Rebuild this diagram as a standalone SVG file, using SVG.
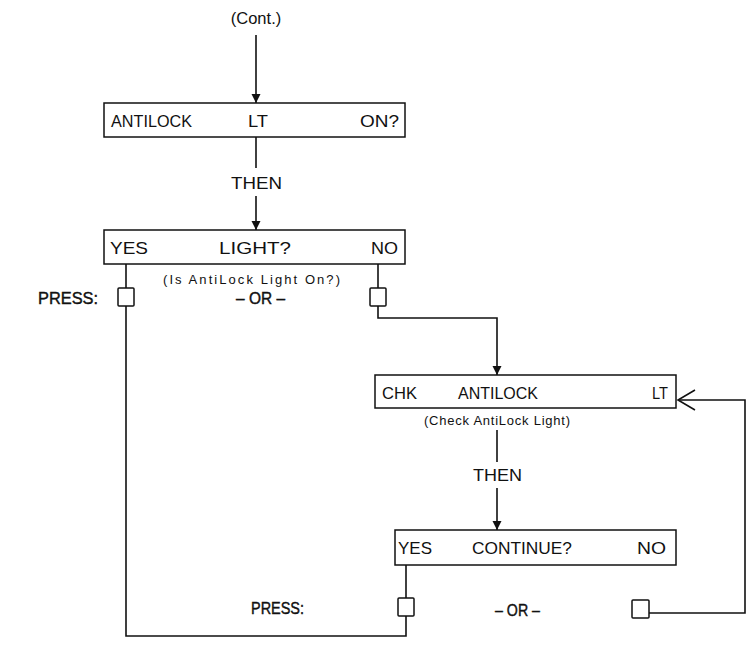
<svg xmlns="http://www.w3.org/2000/svg" width="752" height="649" viewBox="0 0 752 649">
<defs>
<style>
.t{font-family:"Liberation Sans",Arial,sans-serif;font-size:16.5px;fill:#111}
.s{font-family:"Liberation Sans",Arial,sans-serif;font-size:13px;fill:#111}
.b{font-family:"Liberation Sans",Arial,sans-serif;font-size:16px;fill:#111;stroke:#111;stroke-width:0.4}
.box{fill:#fff;stroke:#111;stroke-width:1.5}
.ln{fill:none;stroke:#111;stroke-width:1.6}
</style>
<marker id="ah" viewBox="0 0 9 16" refX="9" refY="8" markerWidth="9" markerHeight="16" markerUnits="userSpaceOnUse" orient="auto">
<path d="M0,3.5 L9,8 L0,12.5 Z" fill="#111"/>
</marker>
</defs>
<rect width="752" height="649" fill="#fff"/>
<g id="connectors">
<line class="ln" x1="256" y1="35" x2="256" y2="103" marker-end="url(#ah)"/>
<line class="ln" x1="256" y1="137" x2="256" y2="168"/>
<line class="ln" x1="256" y1="196" x2="256" y2="230" marker-end="url(#ah)"/>
<line class="ln" x1="126" y1="264" x2="126" y2="288"/>
<polyline class="ln" points="126,306 126,636 406,636 406,616"/>
<line class="ln" x1="378" y1="264" x2="378" y2="288"/>
<polyline class="ln" points="378,306 378,318 497,318 497,375" marker-end="url(#ah)"/>
<line class="ln" x1="497" y1="430" x2="497" y2="462"/>
<line class="ln" x1="497" y1="488" x2="497" y2="530" marker-end="url(#ah)"/>
<line class="ln" x1="406" y1="565" x2="406" y2="598"/>
<polyline class="ln" points="649,613 745,613 745,400 678,400"/>
<polyline class="ln" points="695,390 678,400 695,410"/>
</g>
<g id="cont"><text class="t" x="256" y="24" text-anchor="middle">(Cont.)</text></g>
<g id="box1">
<rect class="box" x="104" y="103" width="301" height="34"/>
<text class="t" x="111" y="127" textLength="81" lengthAdjust="spacingAndGlyphs">ANTILOCK</text>
<text class="t" x="248" y="127" textLength="20" lengthAdjust="spacingAndGlyphs">LT</text>
<text class="t" x="360" y="127" textLength="39" lengthAdjust="spacingAndGlyphs">ON?</text>
</g>
<g id="then1"><text class="t" x="231" y="189" textLength="51" lengthAdjust="spacingAndGlyphs">THEN</text></g>
<g id="box2">
<rect class="box" x="104" y="230" width="301" height="34"/>
<text class="t" x="110" y="254" textLength="38" lengthAdjust="spacingAndGlyphs">YES</text>
<text class="t" x="219" y="254" textLength="72" lengthAdjust="spacingAndGlyphs">LIGHT?</text>
<text class="t" x="371" y="254" textLength="27" lengthAdjust="spacingAndGlyphs">NO</text>
<text class="s" x="163" y="284" textLength="177" lengthAdjust="spacing">(Is AntiLock Light On?)</text>
</g>
<g id="press1"><text class="b" x="38" y="304" textLength="60" lengthAdjust="spacingAndGlyphs">PRESS:</text></g>
<g id="btn-yes1"><rect class="box" x="118" y="288" width="16" height="18" rx="1"/></g>
<g id="or1"><text class="b" x="236" y="304" textLength="49" lengthAdjust="spacingAndGlyphs">– OR –</text></g>
<g id="btn-no1"><rect class="box" x="370" y="288" width="16" height="18" rx="1"/></g>
<g id="box3">
<rect class="box" x="375" y="375" width="301" height="33"/>
<text class="t" x="382" y="399" textLength="35" lengthAdjust="spacingAndGlyphs">CHK</text>
<text class="t" x="458" y="399" textLength="80" lengthAdjust="spacingAndGlyphs">ANTILOCK</text>
<text class="t" x="652" y="399" textLength="16" lengthAdjust="spacingAndGlyphs">LT</text>
<text class="s" x="424" y="425" textLength="146" lengthAdjust="spacing">(Check AntiLock Light)</text>
</g>
<g id="then2"><text class="t" x="473" y="481" textLength="49" lengthAdjust="spacingAndGlyphs">THEN</text></g>
<g id="box4">
<rect class="box" x="395" y="530" width="281" height="35"/>
<text class="t" x="398" y="554" textLength="34" lengthAdjust="spacingAndGlyphs">YES</text>
<text class="t" x="472" y="554" textLength="100" lengthAdjust="spacingAndGlyphs">CONTINUE?</text>
<text class="t" x="637" y="554" textLength="29" lengthAdjust="spacingAndGlyphs">NO</text>
</g>
<g id="press2"><text class="b" x="251" y="614" textLength="53" lengthAdjust="spacingAndGlyphs">PRESS:</text></g>
<g id="btn-yes2"><rect class="box" x="398" y="598" width="16" height="18" rx="1"/></g>
<g id="or2"><text class="b" x="495" y="616" textLength="45" lengthAdjust="spacingAndGlyphs">– OR –</text></g>
<g id="btn-no2"><rect class="box" x="632" y="600" width="17" height="18" rx="1"/></g>
</svg>
